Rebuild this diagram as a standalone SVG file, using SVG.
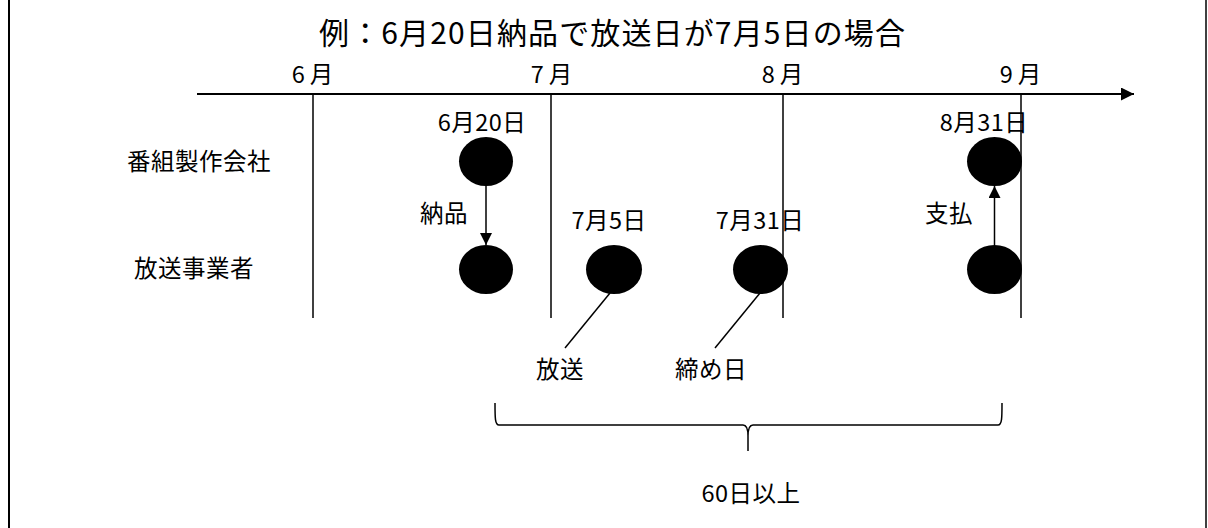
<svg xmlns="http://www.w3.org/2000/svg" width="1208" height="528" viewBox="0 0 1208 528">
<style>
.t{font-family:"Noto Sans CJK JP","Noto Sans",sans-serif;fill:#000;}
.lb{font-size:23.5px;letter-spacing:0.5px;text-anchor:middle;}
.mo{font-size:23.5px;letter-spacing:5px;text-anchor:middle;}
.ln{stroke:#000;stroke-width:1.5;fill:none;}
.dot{fill:#000;}
</style>
<defs>
<marker id="ah" viewBox="0 0 10 10" refX="10" refY="5" markerWidth="13" markerHeight="13" markerUnits="userSpaceOnUse" orient="auto">
<path d="M0,0 L10,5 L0,10 Z" fill="#000"/>
</marker>
<marker id="ah2" viewBox="0 0 10 10" refX="10" refY="5" markerWidth="12" markerHeight="12" markerUnits="userSpaceOnUse" orient="auto">
<path d="M0,0 L10,5 L0,10 Z" fill="#000"/>
</marker>
</defs>
<rect x="0" y="0" width="1208" height="528" fill="#fff"/>
<line x1="9" y1="0" x2="9" y2="528" stroke="#000" stroke-width="2"/>
<line x1="1206" y1="0" x2="1206" y2="528" stroke="#000" stroke-width="1.5"/>
<g id="title">
<text class="t" x="319" y="44" font-size="30" textLength="586" lengthAdjust="spacing">例：6月20日納品で放送日が7月5日の場合</text>
</g>
<g id="axis">
<line x1="197" y1="94" x2="1134" y2="94" stroke="#000" stroke-width="2" marker-end="url(#ah)"/>
<line class="ln" x1="313" y1="94" x2="313" y2="318"/>
<line class="ln" x1="551" y1="94" x2="551" y2="318"/>
<line class="ln" x1="783" y1="94" x2="783" y2="318"/>
<line class="ln" x1="1021" y1="94" x2="1021" y2="318"/>
<text class="t mo" x="315" y="83">6月</text>
<text class="t mo" x="554" y="83">7月</text>
<text class="t mo" x="785" y="83">8月</text>
<text class="t mo" x="1023" y="83">9月</text>
</g>
<g id="rows">
<text class="t lb" x="199" y="170">番組製作会社</text>
<text class="t lb" x="194" y="277">放送事業者</text>
</g>
<g id="n1"><ellipse class="dot" cx="486" cy="161.5" rx="27" ry="24.5"/><text class="t lb" x="482" y="131">6月20日</text></g>
<g id="n2"><ellipse class="dot" cx="486" cy="269.5" rx="27" ry="24.5"/></g>
<g id="n3"><ellipse class="dot" cx="614" cy="269.5" rx="28" ry="24.5"/><text class="t lb" x="609" y="229">7月5日</text></g>
<g id="n4"><ellipse class="dot" cx="760.5" cy="269.5" rx="27.5" ry="24.5"/><text class="t lb" x="760" y="229">7月31日</text></g>
<g id="n5"><ellipse class="dot" cx="994.5" cy="161.5" rx="27.5" ry="24.5"/><text class="t lb" x="984" y="131">8月31日</text></g>
<g id="n6"><ellipse class="dot" cx="994.5" cy="269.5" rx="27.5" ry="24.5"/></g>
<g id="connectors">
<line class="ln" x1="486" y1="186" x2="486" y2="245" marker-end="url(#ah2)"/>
<line class="ln" x1="994.5" y1="245" x2="994.5" y2="186" marker-end="url(#ah2)"/>
<line class="ln" x1="610" y1="293" x2="565" y2="348"/>
<line class="ln" x1="760" y1="293" x2="715" y2="348"/>
<path class="ln" d="M495,403 C495,418 495,425 499,425 L743,425 C746,425 748,428 748,436 L748,451 M748,436 C748,428 750,425 753,425 L998,425 C1002,425 1002,418 1002,403"/>
</g>
<g id="labels">
<text class="t lb" x="444" y="222">納品</text>
<text class="t lb" x="949" y="222">支払</text>
<text class="t lb" x="560" y="378">放送</text>
<text class="t lb" x="711" y="378">締め日</text>
<text class="t lb" x="751" y="502">60日以上</text>
</g>
</svg>
